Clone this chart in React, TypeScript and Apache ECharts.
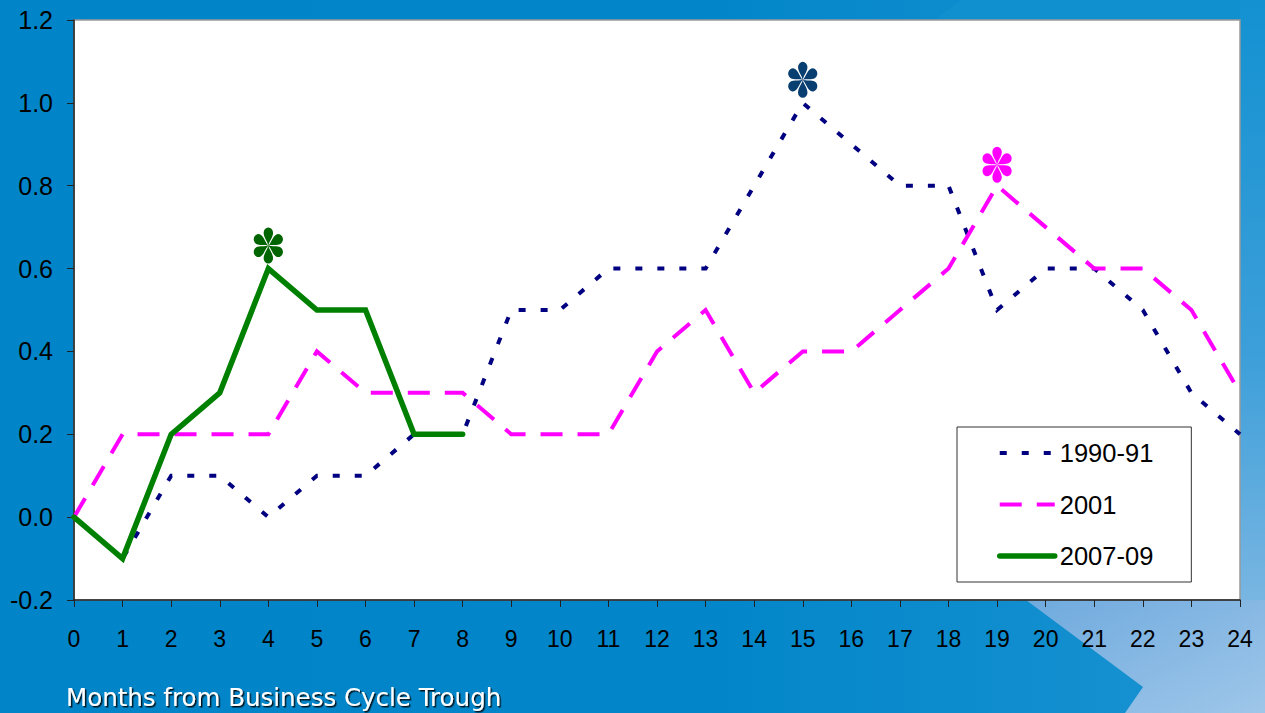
import React, { useEffect, useRef } from "react";
import * as echarts from "echarts";

// Months after the business-cycle trough
const months = ["0","1","2","3","4","5","6","7","8","9","10","11","12","13","14","15","16","17","18","19","20","21","22","23","24"];

// Series values by month
const r1990 = [0, -0.1, 0.1, 0.1, 0, 0.1, 0.1, 0.2, 0.2, 0.5, 0.5, 0.6, 0.6, 0.6, 0.8, 1.0, 0.9, 0.8, 0.8, 0.5, 0.6, 0.6, 0.5, 0.3, 0.2];
const r2001 = [0, 0.2, 0.2, 0.2, 0.2, 0.4, 0.3, 0.3, 0.3, 0.2, 0.2, 0.2, 0.4, 0.5, 0.3, 0.4, 0.4, 0.5, 0.6, 0.8, 0.7, 0.6, 0.6, 0.5, 0.3];
const r2007 = [0, -0.1, 0.2, 0.3, 0.6, 0.5, 0.5, 0.2, 0.2];

const seriesNames = ["1990-91", "2001", "2007-09"];
const seriesColors = ["#000080", "#FF00FF", "#008000"];
const starColors = ["#083f70", "#FF00FF", "#006400"];
// Month index of each recovery's peak, marked with an asterisk
const peakMonths = [15, 19, 4];

const yTicks = [-0.2, 0, 0.2, 0.4, 0.6, 0.8, 1.0, 1.2];

// Six teardrop petals around a common centre, as an SVG path
function asteriskPath(len: number, r: number): { d: string; w: number; h: number } {
  const parts: string[] = [];
  const f = (n: number) => n.toFixed(2);
  for (let k = 0; k < 6; k++) {
    const a = (k * Math.PI) / 3;
    const c = Math.cos(a);
    const s = Math.sin(a);
    const rot = (x: number, y: number) => [x * c - y * s, x * s + y * c];
    const yb = -(len - r);
    const p0 = rot(0, 0);
    const c1 = rot(-1.0, -len * 0.25);
    const c2 = rot(-r, -len * 0.45);
    const p1 = rot(-r, yb);
    const p2 = rot(r, yb);
    const c3 = rot(r, -len * 0.45);
    const c4 = rot(1.0, -len * 0.25);
    parts.push(
      `M${f(p0[0])} ${f(p0[1])} C${f(c1[0])} ${f(c1[1])} ${f(c2[0])} ${f(c2[1])} ${f(p1[0])} ${f(p1[1])} ` +
        `A${r} ${r} 0 0 1 ${f(p2[0])} ${f(p2[1])} C${f(c3[0])} ${f(c3[1])} ${f(c4[0])} ${f(c4[1])} ${f(p0[0])} ${f(p0[1])} Z`
    );
  }
  const w = 2 * ((len - r) * Math.sin(Math.PI / 3) + r);
  const h = 2 * len;
  return { d: parts.join(" "), w, h };
}

const App: React.FC = () => {
  const ref = useRef<HTMLDivElement>(null);

  useEffect(() => {
    document.body.style.margin = "0";
    const chart = echarts.init(ref.current!, null, { renderer: "svg" });
    const allData = [r1990, r2001, r2007];
    const lineStyles = [
      { width: 4, type: [7, 15] as number[], cap: "butt" },
      { width: 4, type: [22, 15] as number[], cap: "butt" },
      { width: 5.5, type: "solid", cap: "round" },
    ];

    const lineSeries = allData.map((d, i) => ({
      name: seriesNames[i],
      type: "line" as const,
      data: d,
      symbol: "none",
      z: 2 + i,
      lineStyle: { color: seriesColors[i], join: "miter", ...lineStyles[i] },
      itemStyle: { color: seriesColors[i] },
    }));

    const star = asteriskPath(18, 5.2);
    const starSeries = allData.map((d, i) => ({
      name: seriesNames[i] + " peak",
      type: "scatter" as const,
      data: [[peakMonths[i], d[peakMonths[i]]]],
      symbol: "path://" + star.d,
      symbolSize: [star.w, star.h],
      symbolKeepAspect: true,
      symbolOffset: [0, i === 1 ? -21 : -23],
      itemStyle: { color: starColors[i], opacity: 1 },
      z: 6,
    }));

    chart.setOption({
      animation: false,
      graphic: [
        {
          type: "polygon",
          z: -10,
          silent: true,
          shape: { points: [[960, 0], [1265, 0], [1265, 20], [935, 20]] },
          style: { fill: "#1190d0" },
        },
        {
          type: "rect",
          z: -10,
          silent: true,
          shape: { x: 1240, y: 0, width: 25, height: 713 },
          style: {
            fill: new echarts.graphic.LinearGradient(0, 0, 0, 1, [
              { offset: 0, color: "#1391d1" },
              { offset: 0.5, color: "#3d9fd9" },
              { offset: 1, color: "#94c0e6" },
            ]),
          },
        },
        {
          type: "polygon",
          z: -10,
          silent: true,
          shape: { points: [[1026, 600], [1143, 687], [1125, 713], [1265, 713], [1265, 600]] },
          style: {
            fill: new echarts.graphic.LinearGradient(0, 0, 1, 1, [
              { offset: 0, color: "#6faade" },
              { offset: 1, color: "#9ec6e9" },
            ]),
          },
        },
        {
          type: "text",
          left: 66,
          top: 685,
          style: {
            text: "Months from Business Cycle Trough",
            fontSize: 24.5,
            fontFamily: "DejaVu Sans",
            fill: "#ffffff",
            textShadowColor: "rgba(0,0,0,0.85)",
            textShadowOffsetX: 1.5,
            textShadowOffsetY: 1.5,
            textShadowBlur: 1,
          },
        },
      ],
      grid: {
        left: 74,
        right: 25,
        top: 20,
        bottom: 113,
        show: true,
        backgroundColor: "#ffffff",
        borderColor: "#999999",
        borderWidth: 1.5,
      },
      legend: {
        data: seriesNames.map((n, i) => ({
          name: n,
          lineStyle: { color: seriesColors[i], width: lineStyles[i].width, type: lineStyles[i].type, cap: lineStyles[i].cap },
        })),
        orient: "vertical",
        left: 957,
        top: 427,
        backgroundColor: "#ffffff",
        borderColor: "#333333",
        borderWidth: 1,
        borderRadius: 0,
        padding: [13, 38, 13, 40],
        itemGap: 25.5,
        itemWidth: 55,
        itemHeight: 14,
        itemStyle: { opacity: 0 },
        textStyle: { fontSize: 25.5, fontFamily: "Liberation Sans", color: "#000000" },
        selectedMode: false,
      },
      xAxis: {
        type: "category",
        data: months,
        boundaryGap: false,
        axisLine: { onZero: false, lineStyle: { color: "#222222", width: 1.5 } },
        axisTick: { show: true, length: 7, lineStyle: { color: "#222222" } },
        axisLabel: { fontSize: 23, fontFamily: "Liberation Sans", color: "#000000", margin: 27, interval: 0 },
        splitLine: { show: false },
      },
      yAxis: {
        type: "value",
        min: yTicks[0],
        max: yTicks[yTicks.length - 1],
        interval: 0.2,
        axisLine: { show: true, lineStyle: { color: "#222222", width: 1.5 } },
        axisTick: { show: true, length: 7, lineStyle: { color: "#222222" } },
        axisLabel: {
          fontSize: 25,
          fontFamily: "Liberation Sans",
          color: "#000000",
          margin: 21,
          formatter: (v: number) => v.toFixed(1),
        },
        splitLine: { show: false },
      },
      series: [...lineSeries, ...starSeries],
    });

    return () => chart.dispose();
  }, []);

  return (
    <div
      ref={ref}
      style={{
        position: "absolute",
        left: 0,
        top: 0,
        width: 1265,
        height: 713,
        background: "linear-gradient(90deg, #0185c8 0%, #0286c9 55%, #0f8dce 80%, #1c93d2 100%)",
      }}
    />
  );
};

export default App;
